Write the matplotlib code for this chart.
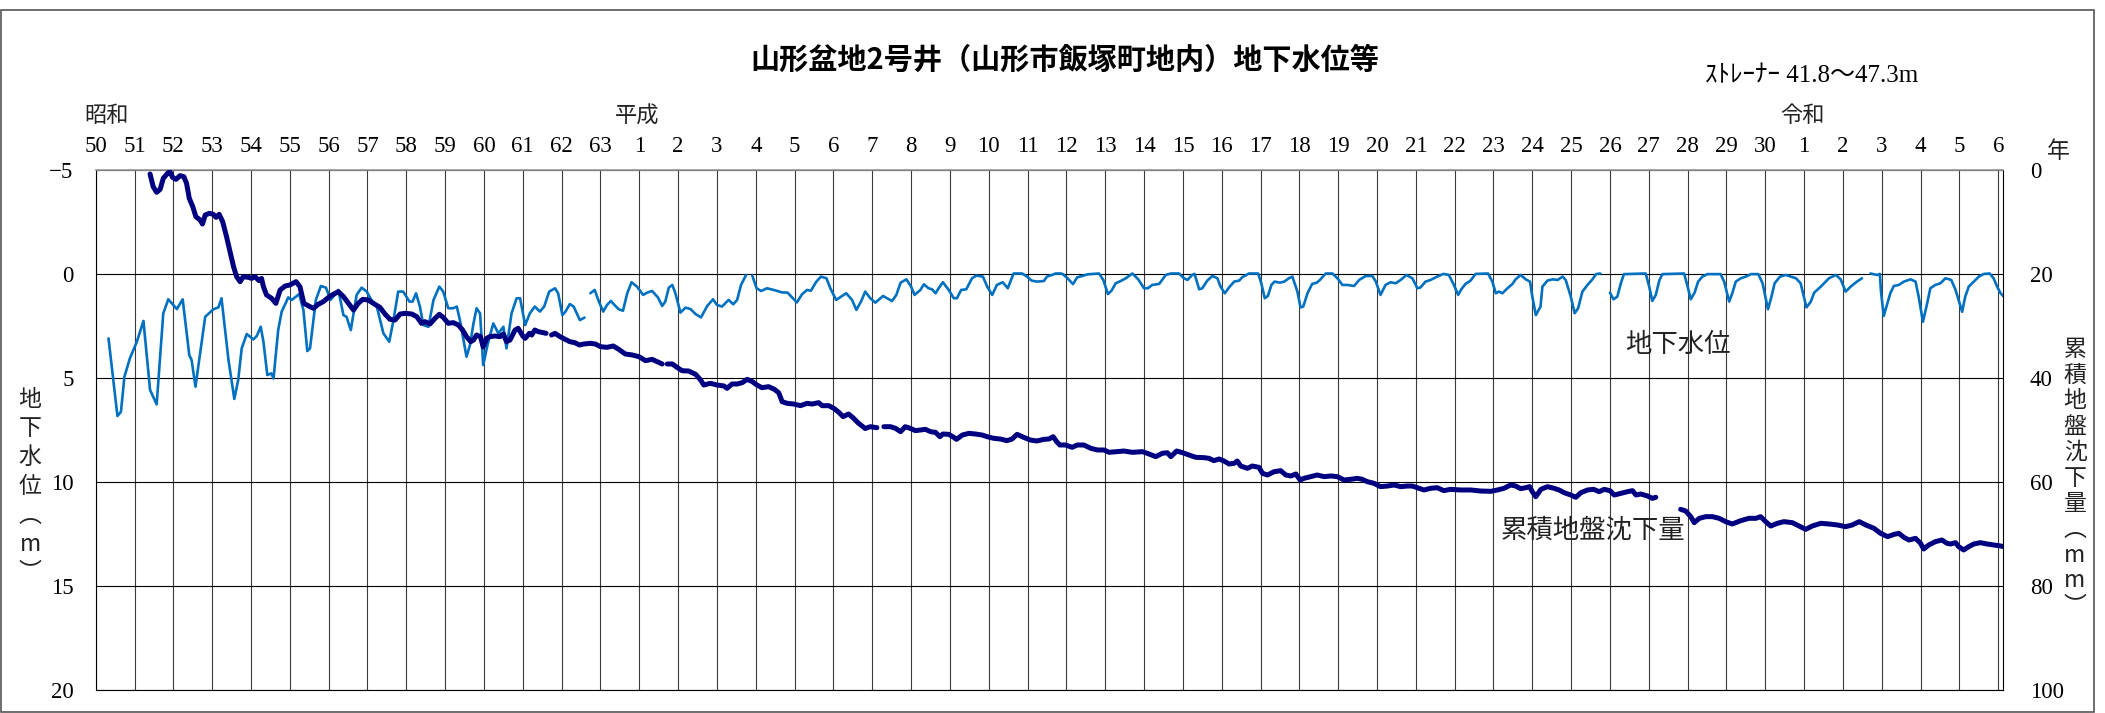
import numpy as np
import matplotlib
matplotlib.use("Agg")
import matplotlib.pyplot as plt
from matplotlib.patches import Rectangle
import matplotlib.transforms as mtransforms

W, H = 2105, 713
nan = np.nan
BASE_YEAR = 1975

# ---------------- data ----------------
showa_years = list(range(50, 64))
heisei_years = list(range(1, 31))
reiwa_years = list(range(1, 7))
year_labels = [str(v) for v in showa_years + heisei_years + reiwa_years]
era_names = ["昭和", "平成", "令和"]
era_start_years = [1975, 1989, 2019]

left_ticks = [-5, 0, 5, 10, 15, 20]
right_ticks = [0, 20, 40, 60, 80, 100]

# groundwater level (m), time in years since 1975 (NaN = gap)
wl_t = [0.33, 0.56, 0.65, 0.74, 0.88, 1.06, 1.23, 1.40, 1.57, 1.74, 1.87, 2.09, 2.24, 2.41, 2.47, 2.57, 2.82,
        3.03, 3.16, 3.24, 3.42, 3.57, 3.67, 3.76, 3.89, 4.06, 4.15, 4.25, 4.32, 4.42, 4.52, 4.58, 4.70, 4.79, 4.96,
        5.05, 5.24, 5.35, 5.45, 5.52, 5.67, 5.80, 5.93, 6.05, 6.25, 6.38, 6.46, 6.57, 6.72, 6.85, 6.98,
        7.15, 7.24, 7.41, 7.56, 7.67, 7.79, 7.92, 8.08, 8.16, 8.25, 8.35, 8.44, 8.57, 8.70, 8.85, 8.95,
        9.08, 9.21, 9.30, 9.38, 9.55, 9.64, 9.73, 9.81, 9.90, 9.98, 10.09, 10.24, 10.37, 10.50, 10.58, 10.71,
        10.84, 10.93, 11.06, 11.18, 11.31, 11.44, 11.55, 11.68, 11.83, 11.91, 12.02, 12.10, 12.21, 12.31,
        12.47, 12.59, 12.66,
        12.74, 12.85, 12.96, 13.07, 13.17, 13.27, 13.36, 13.47, 13.58, 13.69, 13.80, 13.94, 14.10, 14.20,
        14.33, 14.48, 14.59, 14.67, 14.76, 14.85, 14.93, 15.06, 15.19, 15.32, 15.45, 15.59, 15.75, 15.90,
        16.00, 16.13, 16.30, 16.42, 16.52, 16.62, 16.75, 16.83,
        16.91, 17.02, 17.14, 17.29, 17.46, 17.68, 17.82, 17.94, 18.06, 18.19, 18.32, 18.42, 18.56, 18.68,
        18.82, 18.92, 19.07, 19.20, 19.33, 19.48, 19.59, 19.71, 19.82, 19.95, 20.08, 20.28, 20.38, 20.51,
        20.62, 20.73, 20.88, 21.00, 21.09, 21.24, 21.33, 21.45, 21.54, 21.63, 21.71, 21.82, 21.97, 22.10,
        22.18, 22.29, 22.42, 22.57, 22.68, 22.85, 22.96, 23.09, 23.21, 23.36, 23.49, 23.64, 23.86, 23.99,
        24.10, 24.24, 24.42, 24.50, 24.63, 24.72, 24.85, 24.90, 25.03, 25.17, 25.28, 25.41, 25.54, 25.71,
        25.84, 25.95, 26.07, 26.16, 26.27, 26.40, 26.53, 26.70, 26.85, 27.00, 27.10, 27.21, 27.39, 27.56,
        27.69, 27.90, 28.03, 28.12, 28.24, 28.30, 28.42, 28.50, 28.63, 28.76, 28.89, 28.97, 29.08, 29.19,
        29.32, 29.45, 29.53, 29.70, 29.94, 30.02, 30.11, 30.19, 30.28, 30.36, 30.50, 30.61, 30.73, 30.82,
        30.95, 31.03, 31.10, 31.21, 31.33, 31.45, 31.53, 31.68, 31.85, 31.98, 32.11, 32.24, 32.41, 32.54,
        32.71, 32.88, 32.97, 33.09, 33.22, 33.35, 33.48, 33.61, 33.76, 33.91, 34.04, 34.12, 34.25, 34.38,
        34.55, 34.71, 34.85, 34.98, 35.09, 35.17, 35.28, 35.41, 35.54, 35.86, 35.97, 36.06, 36.14, 36.23,
        36.36, 36.49, 36.57, 36.70, 36.83, 36.94, 37.00, 37.09, 37.21, 37.26, 37.39, 37.52, 37.65, 37.78,
        37.86, 37.99, 38.09, 38.18, 38.29, 38.42, 38.55, 38.64, 38.75, 38.87,
        39.00, 39.09, 39.19, 39.28, 39.36, 39.92, 40.01, 40.09, 40.18, 40.27, 40.35, 40.91, 41.00, 41.08,
        41.18, 41.27, 41.38, 41.51, 41.85, 41.94, 42.07, 42.15, 42.24, 42.37, 42.50, 42.63, 42.82, 42.93,
        43.07, 43.16, 43.24, 43.38, 43.53, 43.66, 43.79, 43.91, 44.06, 44.17, 44.26, 44.43, 44.64, 44.82,
        44.94, 45.07, 45.20, 45.36, 45.49, 45.60,
        45.71, 45.88, 45.95, 45.98, 46.05, 46.12, 46.22, 46.31, 46.44, 46.57, 46.74, 46.87, 46.95, 47.06,
        47.17, 47.25, 47.38, 47.51, 47.64, 47.79, 47.90, 48.07, 48.15, 48.24, 48.37, 48.50, 48.63, 48.78,
        48.88, 48.97, 49.06, 49.16]
wl_v = [3.12, 6.85, 6.65, 4.96, 4.08, 3.28, 2.28, 5.60, 6.29, 1.92, 1.24, 1.71, 1.24, 3.92, 4.16, 5.44, 2.08,
        1.72, 1.63, 1.19, 4.16, 6.03, 5.12, 3.60, 2.91, 3.17, 3.00, 2.56, 3.28, 4.88, 4.80, 5.04, 2.72, 1.83, 1.15,
        1.27, 0.99, 1.76, 3.73, 3.60, 1.27, 0.60, 0.68, 1.27, 0.79, 2.00, 2.08, 2.72, 1.03, 0.68, 0.87,
        1.43, 1.59, 2.88, 3.28, 2.24, 0.87, 0.87, 1.35, 1.35, 0.95, 1.59, 2.48, 2.56, 1.27, 0.63, 0.87,
        1.67, 1.67, 1.59, 2.24, 4.00, 3.44, 2.40, 1.67, 1.92, 4.40, 3.44, 2.40, 2.88, 2.56, 3.60, 1.92,
        1.19, 1.19, 2.48, 1.92, 1.59, 1.83, 1.59, 0.87, 0.71, 0.95, 2.00, 1.83, 1.47, 1.59,
        2.24, 2.12, nan,
        0.95, 0.79, 1.35, 1.83, 1.51, 1.32, 1.51, 1.72, 1.79, 0.95, 0.42, 0.63, 1.03, 0.92,
        0.84, 1.15, 1.56, 1.35, 0.68, 0.55, 0.95, 1.88, 1.64, 1.71, 1.95, 2.11, 1.56, 1.24,
        1.51, 1.59, 1.27, 1.48, 1.27, 0.55, 0.07, nan,
        0.10, 0.71, 0.84, 0.71, 0.79, 0.91, 0.92, 1.16, 1.39, 1.00, 0.79, 0.83, 0.39, 0.15,
        0.23, 0.71, 1.27, 1.11, 0.95, 1.27, 1.75, 1.35, 0.87, 1.19, 1.40, 1.08, 1.19, 1.32,
        1.03, 0.44, 0.28, 0.63, 1.03, 0.79, 0.52, 0.71, 0.76, 0.95, 0.71, 0.42, 0.79, 1.19,
        1.19, 0.79, 0.76, 0.23, 0.10, 0.15, 0.63, 1.03, 0.55, 0.42, 0.71, 0.00, 0.00, 0.15,
        0.34, 0.39, 0.36, 0.15, 0.07, 0.00, 0.00, 0.02, 0.23, 0.51, 0.18, 0.12, 0.04, 0.02,
        0.00, 0.31, 0.99, 0.83, 0.47, 0.36, 0.23, 0.00, 0.28, 0.71, 0.71, 0.55, 0.50, 0.07,
        0.00, 0.00, 0.23, 0.31, 0.07, 0.02, 0.76, 0.71, 0.34, 0.12, 0.23, 0.63, 0.95, 0.67,
        0.39, 0.34, 0.18, 0.00, 0.00, 0.47, 1.19, 1.08, 0.55, 0.39, 0.44, 0.39, 0.23, 0.15,
        0.87, 1.63, 1.59, 0.95, 0.50, 0.44, 0.31, 0.00, 0.00, 0.23, 0.55, 0.55, 0.60, 0.31,
        0.12, 0.12, 0.39, 1.03, 0.55, 0.42, 0.47, 0.31, 0.07, 0.23, 0.71, 0.67, 0.39, 0.31,
        0.15, 0.02, 0.07, 0.55, 1.03, 0.76, 0.50, 0.34, 0.02, 0.00, 0.39, 0.95, 0.87, 0.95,
        0.71, 0.50, 0.28, 0.07, 0.28, 0.39, 1.11, 2.00, 1.60, 0.63, 0.34, 0.28, 0.31, 0.15,
        0.31, 1.11, 1.91, 1.67, 0.87, 0.55, 0.28, 0.03, 0.00, nan,
        0.92, 1.24, 1.11, 0.47, 0.03, 0.00, 0.63, 1.32, 1.03, 0.34, 0.03, 0.00, 0.63, 1.24,
        0.92, 0.39, 0.15, 0.03, 0.03, 0.39, 1.35, 0.95, 0.39, 0.23, 0.15, 0.03, 0.03, 0.47,
        1.72, 1.11, 0.47, 0.15, 0.07, 0.15, 0.23, 0.47, 1.63, 1.36, 0.92, 0.63, 0.23, 0.07,
        0.28, 0.87, 0.63, 0.39, 0.23, nan,
        0.00, 0.07, 0.02, 0.87, 2.04, 1.59, 0.95, 0.60, 0.55, 0.39, 0.28, 0.39, 1.11, 2.32,
        1.43, 0.71, 0.55, 0.47, 0.23, 0.31, 0.79, 1.84, 1.11, 0.63, 0.39, 0.15, 0.02, 0.00,
        0.23, 0.63, 0.95, 1.15]

# cumulative land subsidence (mm), time in years since 1975 (NaN = gap)
sub_t = [1.40, 1.48, 1.57, 1.66, 1.74, 1.85, 1.91, 1.98, 2.07, 2.17, 2.27, 2.34, 2.41, 2.50, 2.58, 2.69,
         2.75, 2.82, 2.93, 3.03, 3.10, 3.18, 3.27, 3.37, 3.46, 3.55, 3.63, 3.72, 3.80, 3.93, 4.02, 4.10,
         4.21, 4.27, 4.32, 4.40, 4.53, 4.64, 4.75, 4.88, 5.00, 5.16, 5.26, 5.36, 5.52, 5.61, 5.73, 5.86,
         6.02, 6.12, 6.25, 6.38, 6.51, 6.64, 6.76, 6.88, 7.02, 7.15, 7.32, 7.45, 7.58, 7.71, 7.84, 7.97,
         8.14, 8.27, 8.39, 8.48, 8.61, 8.74, 8.85, 8.95, 9.08, 9.21, 9.34, 9.45, 9.55, 9.66, 9.73, 9.81,
         9.91, 9.98, 10.07, 10.15, 10.28, 10.41, 10.50, 10.58, 10.67, 10.80, 10.88, 11.00, 11.06, 11.17,
         11.23, 11.31, 11.40, 11.53, 11.60, 11.67,
         11.74, 11.83, 11.96, 12.09, 12.21, 12.34, 12.46, 12.57, 12.74, 12.87, 13.00, 13.17, 13.33, 13.47,
         13.64, 13.82, 13.99, 14.16, 14.33, 14.46, 14.59, 14.65,
         14.72, 14.85, 14.97, 15.10, 15.27, 15.45, 15.58, 15.66, 15.83, 16.00, 16.18, 16.26, 16.39, 16.52,
         16.65, 16.78, 16.91, 17.03, 17.16, 17.33, 17.48, 17.59, 17.68, 17.81, 17.98, 18.15, 18.32, 18.45,
         18.62, 18.71, 18.88, 19.01, 19.14, 19.25, 19.39, 19.52, 19.63, 19.82, 19.95, 20.12, 20.21,
         20.30, 20.47, 20.60, 20.73, 20.85, 20.98, 21.11, 21.24, 21.37, 21.50, 21.63, 21.74, 21.82, 21.97,
         22.10, 22.17, 22.32, 22.49, 22.66, 22.83, 22.96, 23.13, 23.30, 23.47, 23.60, 23.73, 23.90, 24.07,
         24.24, 24.42, 24.55, 24.66, 24.75, 24.83, 24.98, 25.15, 25.28, 25.45, 25.63, 25.80, 25.97, 26.10,
         26.31, 26.48, 26.70, 26.96, 27.13, 27.30, 27.47, 27.60, 27.69, 27.84, 27.99, 28.16, 28.33, 28.55,
         28.67, 28.80, 28.93, 29.06, 29.19, 29.32, 29.40, 29.49, 29.66, 29.79, 29.96, 30.05, 30.18, 30.35,
         30.52, 30.65, 30.78, 30.91, 31.02, 31.12, 31.29, 31.46, 31.64, 31.81, 31.98, 32.15, 32.32, 32.49,
         32.62, 32.75, 32.92, 33.09, 33.27, 33.44, 33.61, 33.78, 33.91, 34.04, 34.21, 34.38, 34.55, 34.72,
         34.89, 35.15, 35.41, 35.67, 35.93, 36.10, 36.27, 36.44, 36.57, 36.70, 36.83, 36.93, 37.00, 37.09,
         37.22, 37.39, 37.56, 37.69, 37.82, 37.99, 38.12, 38.25, 38.42, 38.58, 38.72, 38.85, 39.00, 39.11,
         39.28, 39.45, 39.58, 39.67, 39.79, 39.97, 40.09, 40.18, 40.50,
         40.82, 40.95, 41.08, 41.17, 41.30, 41.47, 41.64, 41.81, 41.98, 42.15, 42.37, 42.58, 42.76, 42.88,
         43.01, 43.14, 43.31, 43.48, 43.70, 43.87, 44.04, 44.21, 44.43, 44.64, 44.86, 45.07, 45.24, 45.42,
         45.59, 45.80, 45.97, 46.15, 46.32, 46.44, 46.57, 46.70, 46.87, 47.00, 47.08, 47.21, 47.38, 47.55,
         47.68, 47.77, 47.90, 47.98, 48.11, 48.24, 48.37, 48.54, 48.71, 48.88, 49.06, 49.14]
sub_v = [0.87, 3.30, 4.39, 3.81, 1.70, 0.74, 0.42, 1.51, 1.89, 1.19, 1.38, 2.66, 5.54, 7.15, 9.07, 9.71,
         10.48, 8.75, 8.43, 8.62, 9.20, 8.62, 10.03, 12.92, 15.80, 18.69, 20.61, 21.57, 20.61, 20.74, 20.93, 20.61,
         21.38, 20.93, 22.53, 24.13, 24.77, 25.74, 23.17, 22.40, 22.21, 21.57, 22.53, 25.74, 26.38, 26.70, 25.93, 25.42,
         24.45, 24.01, 23.49, 24.45, 25.74, 27.02, 25.74, 24.97, 25.10, 25.74, 26.51, 27.79, 28.81, 28.94, 27.79, 27.66,
         27.79, 28.30, 29.58, 29.26, 29.71, 28.62, 27.85, 28.43, 29.58, 29.45, 29.90, 30.87, 32.15, 33.11, 32.79, 31.83,
         32.15, 34.10, 32.47, 32.15, 32.02, 32.15, 31.63, 33.11, 32.79, 30.87, 30.54, 32.02, 32.47, 31.51,
         31.83, 30.87, 31.19, 31.38, 31.51, nan,
         31.83, 31.51, 32.15, 32.66, 33.11, 33.30, 33.75, 33.56, 33.43, 33.56, 34.07, 34.20, 33.94, 34.58,
         35.48, 35.67, 35.99, 36.76, 36.51, 36.96, 37.40, nan,
         37.40, 37.40, 38.04, 38.69, 38.75, 39.39, 40.48, 41.44, 41.12, 41.44, 41.63, 42.08, 41.25, 41.25,
         40.99, 40.35, 40.80, 41.44, 41.96, 41.76, 42.28, 42.92, 44.65, 44.97, 45.10, 45.42, 44.97, 45.10,
         44.84, 45.42, 45.42, 45.93, 46.70, 47.53, 47.02, 47.85, 48.69, 49.81, 49.46, 49.65, nan,
         49.46, 49.46, 49.78, 50.42, 49.46, 49.78, 50.22, 50.10, 49.97, 50.42, 50.55, 51.38, 50.87, 50.93,
         51.51, 51.89, 51.06, 50.74, 50.87, 51.06, 51.38, 51.70, 51.83, 52.15, 51.83, 50.93, 51.51, 52.02,
         52.21, 51.89, 51.83, 51.38, 52.34, 52.98, 52.98, 53.43, 52.98, 52.98, 53.62, 53.94, 53.94, 54.39,
         54.26, 54.14, 54.39, 54.26, 54.71, 55.22, 54.58, 54.46, 55.22, 54.13, 54.46, 54.90, 55.35, 55.42,
         55.54, 55.99, 55.67, 56.06, 56.63, 56.51, 56.06, 57.02, 57.47, 57.02, 57.28, 58.43, 58.75, 58.11,
         57.92, 58.75, 58.94, 58.56, 59.71, 59.39, 59.07, 58.75, 59.07, 58.94, 59.07, 59.71, 59.58, 59.39,
         59.58, 60.03, 60.35, 60.99, 60.87, 60.67, 60.99, 60.87, 60.87, 61.19, 61.63, 61.31, 61.19, 61.76,
         61.51, 61.63, 61.63, 61.83, 61.89, 61.63, 61.31, 60.67, 60.87, 61.38, 61.19, 60.99, 61.96, 62.92,
         61.51, 60.99, 61.31, 61.63, 62.15, 62.60, 63.04, 62.15, 61.63, 61.51, 61.96, 61.51, 61.76, 62.60,
         62.28, 61.96, 61.76, 62.60, 62.40, 62.79, 63.24, 63.04, nan,
         65.35, 65.67, 66.76, 67.92, 67.08, 66.76, 66.76, 67.08, 67.72, 68.17, 67.53, 67.08, 67.08, 66.76,
         67.72, 68.56, 68.04, 67.72, 67.92, 68.56, 69.20, 68.56, 68.04, 68.17, 68.36, 68.69, 68.36, 67.72,
         68.36, 69.01, 69.97, 70.61, 70.16, 69.97, 70.74, 71.25, 70.93, 71.89, 72.98, 72.21, 71.57, 71.25,
         71.89, 72.02, 71.76, 72.53, 73.17, 72.53, 72.02, 71.76, 72.02, 72.21, 72.40, 72.53]

# ---------------- figure ----------------
SERIF = "Liberation Serif"
JP = "Noto Sans CJK JP"
plt.rcParams["font.family"] = [SERIF, JP, "DejaVu Sans"]

fig = plt.figure(figsize=(W / 100, H / 100), dpi=100)
fig.patch.set_facecolor("white")


def fx(px):
    return px / W


def fy(py):
    return 1 - py / H


ax_l, ax_r, ax_t, ax_b = 95.7, 2003.3, 169.5, 689.5
ax = fig.add_axes([fx(ax_l), fy(ax_b), fx(ax_r - ax_l), (ax_b - ax_t) / H])
ax.set_xlim(BASE_YEAR, BASE_YEAR + 49.13)
ax.set_ylim(20, -5)

years = [BASE_YEAR + i for i in range(len(year_labels))]
ax.set_xticks(years)
ax.set_xticklabels(year_labels)
ax.xaxis.tick_top()
ax.tick_params(axis="x", length=0, pad=9, labelsize=16.5)
ax.set_yticks(left_ticks)
ax.set_yticklabels([str(v).replace("-", "\u2212") for v in left_ticks])
ax.tick_params(axis="y", length=0, pad=16, labelsize=16.5)
for lab in ax.get_xticklabels() + ax.get_yticklabels():
    lab.set_fontfamily(SERIF)

ax.grid(axis="x", color="#3a3a3a", linewidth=0.8)
ax.grid(axis="y", color="black", linewidth=0.8)
ax.set_axisbelow(True)
for side in ["left", "bottom", "right"]:
    ax.spines[side].set_color("black")
    ax.spines[side].set_linewidth(0.8)
ax.spines["top"].set_color("#999999")
ax.spines["top"].set_linewidth(1.2)

t_wl = BASE_YEAR + np.array(wl_t)
ax.plot(t_wl, np.array(wl_v), color="#0070C0", linewidth=1.9, solid_joinstyle="round",
        solid_capstyle="round", zorder=3)

ax2 = ax.twinx()
ax2.set_ylim(100, 0)
ax2.set_yticks(right_ticks)
ax2.set_yticklabels([str(v) for v in right_ticks])
ax2.tick_params(axis="y", length=0, pad=19, labelsize=16.5)
for lab in ax2.get_yticklabels():
    lab.set_fontfamily(SERIF)
for s in ax2.spines.values():
    s.set_visible(False)
t_sub = BASE_YEAR + np.array(sub_t)
ax2.plot(t_sub, np.array(sub_v), color="#000080", linewidth=3.6, solid_joinstyle="round",
         solid_capstyle="round", zorder=4)

# series labels inside the plot
ax.text(2015.75, 3.39, "地下水位", fontsize=19, family=JP, color="#222222", ha="center", va="center")
ax.text(2013.56, 12.33, "累積地盤沈下量", fontsize=19, family=JP, color="#222222", ha="center", va="center")

# era labels above year labels
trans = mtransforms.blended_transform_factory(ax.transData, fig.transFigure)
for name, yr in zip(era_names, era_start_years):
    if yr == era_start_years[0]:
        ax.text(yr - 0.3, fy(116), name, transform=trans, fontsize=16, family=JP,
                ha="left", va="center", color="#222222")
    else:
        ax.text(yr - 0.05, fy(116), name, transform=trans, fontsize=16, family=JP,
                ha="center", va="center", color="#222222")

# title and notes
fig.text(fx(1065), fy(60), "山形盆地2号井（山形市飯塚町地内）地下水位等", fontsize=21,
         family=JP, fontweight="bold", ha="center", va="center")
fig.text(fx(1812), fy(76), "ｽﾄﾚｰﾅｰ 41.8～47.3m", fontsize=18, family=[SERIF, JP],
         ha="center", va="center")
fig.text(fx(2058), fy(151), "年", fontsize=16.5, family=JP, ha="center", va="center", color="#222222")

# stacked axis labels
left_label = ["地", "下", "水", "位", "︵", "m", "︶"]
right_label = ["累", "積", "地", "盤", "沈", "下", "量", "︵", "m", "m", "︶"]
fig.text(fx(30), fy(388), "\n".join(left_label), fontsize=16.5, family=JP, ha="center", va="top",
         linespacing=1.33, color="#222222")
fig.text(fx(2075), fy(338), "\n".join(right_label), fontsize=16.5, family=JP, ha="center", va="top",
         linespacing=1.15, color="#222222")

# outer frame
fig.patches.append(Rectangle((fx(0.5), fy(712)), fx(2093.5), (712 - 10) / H, transform=fig.transFigure,
                             fill=False, edgecolor="#555555", linewidth=1.2))

fig.savefig("out.png", dpi=100, facecolor="white")
